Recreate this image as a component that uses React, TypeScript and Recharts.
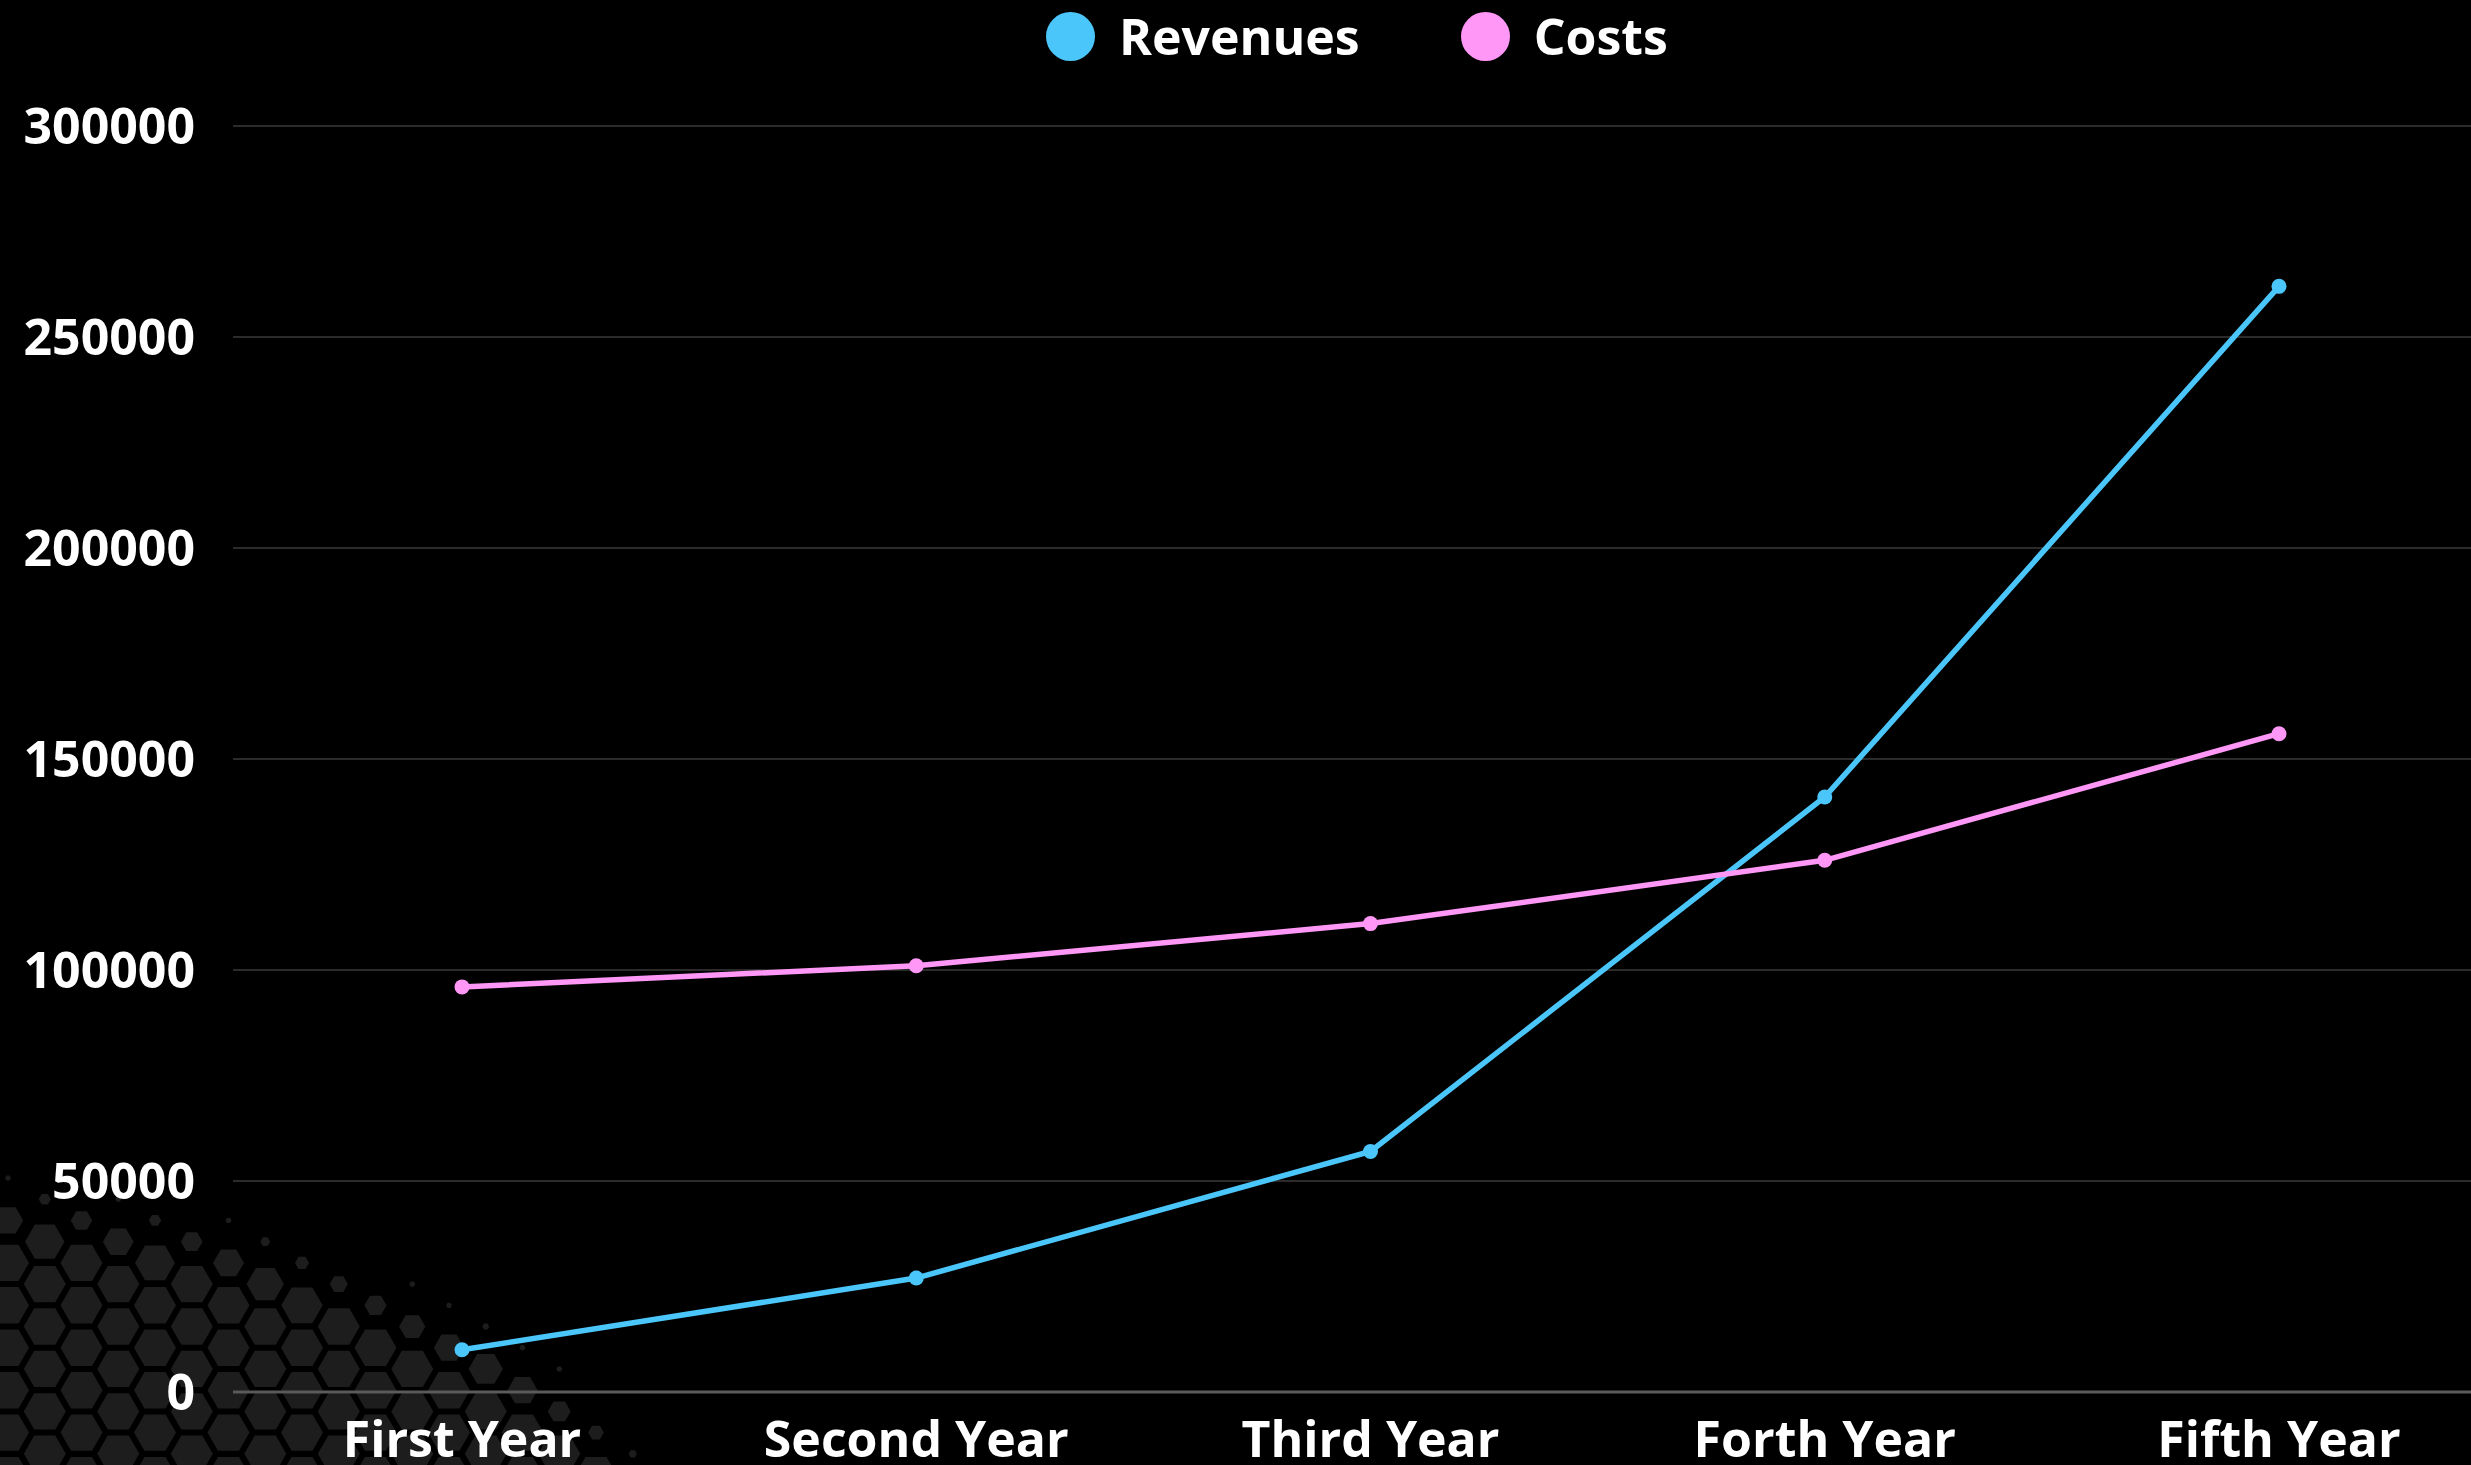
import { LineChart, Line, XAxis, YAxis, CartesianGrid, Legend } from 'recharts';

const years = ['First Year', 'Second Year', 'Third Year', 'Forth Year', 'Fifth Year'];
const revenues = [10000, 27000, 57000, 141000, 262000];
const costs = [96000, 101000, 111000, 126000, 156000];
const yTicks = [0, 50000, 100000, 150000, 200000, 250000, 300000];
const seriesOrder = ['Revenues', 'Costs'];

const REV_COLOR = '#4bc6fa';
const COST_COLOR = '#ff97f7';

const data = years.map((year, i) => ({ year, revenues: revenues[i], costs: costs[i] }));

const tickStyle = { fill: '#fff', fontSize: 50, fontWeight: 700 };

// outline of the hex texture in the lower-left corner
const edgeX = [0, 245, 496, 660];
const edgeY = [1172, 1218, 1320, 1465];

function edgeAt(x: number) {
  if (x <= edgeX[0]) return edgeY[0];
  for (let i = 1; i < edgeX.length; i++) {
    if (x <= edgeX[i]) {
      const f = (x - edgeX[i - 1]) / (edgeX[i] - edgeX[i - 1]);
      return edgeY[i - 1] + f * (edgeY[i] - edgeY[i - 1]);
    }
  }
  return 99999;
}

function Hexes() {
  const R = 24.5;
  const h = Math.sqrt(3) * R;
  const cells: { x: number; y: number; r: number }[] = [];
  for (let col = -1; col < 30; col++) {
    for (let row = -1; row < 10; row++) {
      const cx = col * R * 1.5 + 8;
      const cy = 1178 + row * h + (Math.abs(col) % 2 ? h / 2 : 0);
      const t = cy - edgeAt(cx);
      if (t < -8) continue;
      const k = Math.min(1, Math.max(0, t / 65));
      cells.push({ x: cx, y: cy, r: Math.max(3, 21 * k) });
    }
  }
  const hex = (x: number, y: number, r: number) =>
    [0, 60, 120, 180, 240, 300]
      .map((a) => {
        const rad = (a * Math.PI) / 180;
        return `${(x + r * Math.cos(rad)).toFixed(1)},${(y + r * Math.sin(rad)).toFixed(1)}`;
      })
      .join(' ');
  return (
    <svg width={2471} height={1465} style={{ position: 'absolute', left: 0, top: 0 }}>
      {cells.map((c, i) => (
        <polygon key={i} points={hex(c.x, c.y, c.r)} fill="#1d1d1d" />
      ))}
    </svg>
  );
}

function LegendContent({ payload }: any) {
  const items = [...(payload || [])].sort(
    (a: any, b: any) => seriesOrder.indexOf(a.value) - seriesOrder.indexOf(b.value)
  );
  return (
    <div style={{ display: 'flex', justifyContent: 'center', alignItems: 'center', height: 72, gap: 101 }}>
      {items.map((entry: any) => (
        <div key={entry.value} style={{ display: 'flex', alignItems: 'center' }}>
          <span
            style={{
              display: 'inline-block',
              width: 49,
              height: 49,
              borderRadius: '50%',
              background: entry.color,
              marginRight: 24,
            }}
          />
          <span style={{ color: '#fff', fontSize: 50, fontWeight: 700, lineHeight: '50px' }}>{entry.value}</span>
        </div>
      ))}
    </div>
  );
}

export default function App() {
  return (
    <div
      style={{
        position: 'fixed',
        left: 0,
        top: 0,
        width: 2471,
        height: 1465,
        overflow: 'hidden',
        background: '#000',
        fontFamily: "'Open Sans', sans-serif",
      }}
    >
      <Hexes />
      <div style={{ position: 'absolute', left: 0, top: 0 }}>
        <LineChart width={2508} height={1465} data={data} margin={{ top: 54, right: 0, left: 0, bottom: 0 }}>
          <CartesianGrid vertical={false} stroke="#2b2b2b" strokeWidth={2} />
          <XAxis
            dataKey="year"
            height={73}
            padding={{ left: 229, right: 229 }}
            tick={tickStyle}
            tickLine={false}
            tickSize={0}
            tickMargin={29}
            axisLine={{ stroke: '#5a5a5a', strokeWidth: 3 }}
            interval={0}
          />
          <YAxis
            width={233}
            domain={[0, 300000]}
            ticks={yTicks}
            tick={tickStyle}
            tickLine={false}
            tickSize={0}
            tickMargin={38}
            axisLine={false}
            interval={0}
          />
          <Legend
            verticalAlign="top"
            height={72}
            wrapperStyle={{ top: 0, left: 206, width: 2302 }}
            content={<LegendContent />}
          />
          <Line
            type="linear"
            dataKey="revenues"
            name="Revenues"
            stroke={REV_COLOR}
            strokeWidth={5.5}
            dot={{ r: 7.5, fill: REV_COLOR, stroke: REV_COLOR, strokeWidth: 0 }}
            isAnimationActive={false}
          />
          <Line
            type="linear"
            dataKey="costs"
            name="Costs"
            stroke={COST_COLOR}
            strokeWidth={5.5}
            dot={{ r: 7.5, fill: COST_COLOR, stroke: COST_COLOR, strokeWidth: 0 }}
            isAnimationActive={false}
          />
        </LineChart>
      </div>
    </div>
  );
}
